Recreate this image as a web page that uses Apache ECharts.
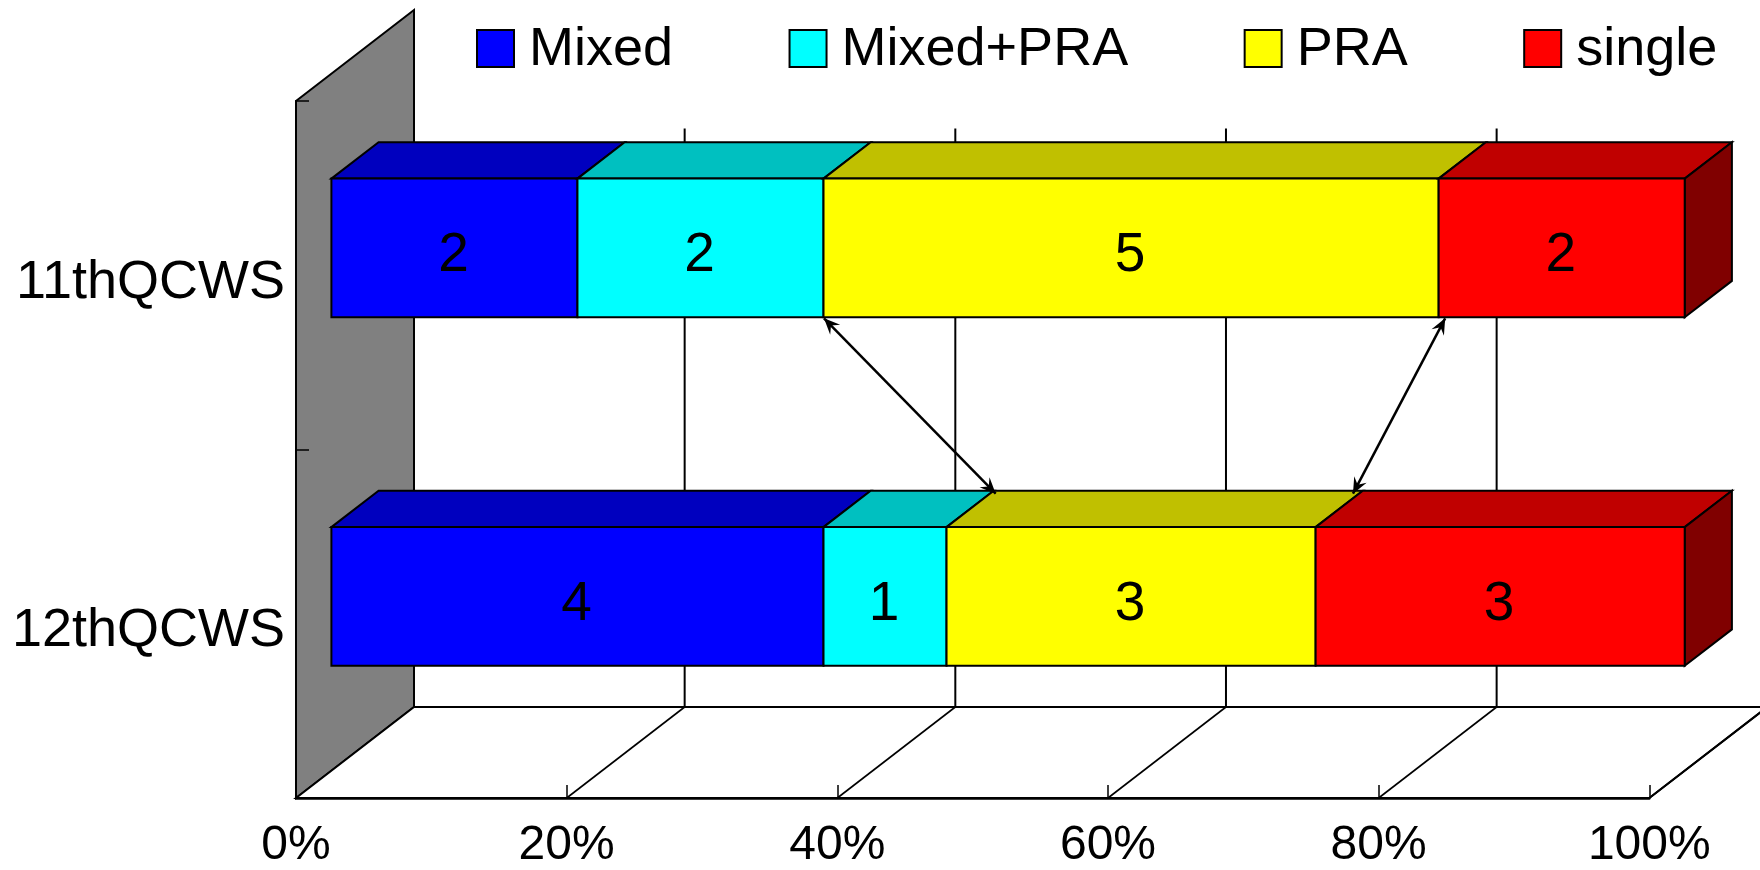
<!DOCTYPE html>
<html>
<head>
<meta charset="utf-8">
<title>QCWS stacked bars</title>
<script src="https://cdn.jsdelivr.net/npm/echarts@6/dist/echarts.min.js"></script>
<style>
  html, body { margin: 0; padding: 0; background: #fff; }
  #chart { width: 1760px; height: 870px; }
</style>
</head>
<body>
<div id="chart"></div>
<script>
// Counts per edition, stacked to 100 %.
const categories = ['11thQCWS', '12thQCWS'];
const mixed = [2, 4];
const mixedPra = [2, 1];
const pra = [5, 3];
const single = [2, 3];
const percentTicks = [0, 20, 40, 60, 80, 100];

const segments = [
  { name: 'Mixed', values: mixed, front: '#0000ff', top: '#0000bf' },
  { name: 'Mixed+PRA', values: mixedPra, front: '#00ffff', top: '#00c0c0' },
  { name: 'PRA', values: pra, front: '#ffff00', top: '#c0c000' },
  { name: 'single', values: single, front: '#ff0000', top: '#c00000', side: '#800000' }
];

// Double-headed links: percent on the lower front edge of one bar, percent on the back top edge of the other.
const linkUpper = [36.4, 82.3];
const linkLower = [45.6, 72.0];

// Oblique projection of the box: how far the back plane sits from the front plane.
const DEPTH_X = 118;
const DEPTH_Y = -91;
const BAR_NEAR = 0.3;   // bar front, as a share of the floor depth
const BAR_FAR = 0.7;    // bar back
const BAR_FILL = 0.398; // bar height as a share of its category band
const FONT = '"Liberation Sans", Arial, sans-serif';
const LABEL_SIZE = 54;
const COUNT_SIZE = 55;
const TICK_LABEL_SIZE = 48;

const totals = categories.map((_, i) => segments.reduce((s, seg) => s + seg.values[i], 0));

function poly(points, fill, lineWidth) {
  return {
    type: 'polygon',
    shape: { points },
    style: { fill, stroke: '#000', lineWidth: lineWidth == null ? 2 : lineWidth, lineJoin: 'miter' }
  };
}

function line(a, b, lineWidth) {
  return {
    type: 'line',
    shape: { x1: a[0], y1: a[1], x2: b[0], y2: b[1] },
    style: { stroke: '#000', lineWidth }
  };
}

// One stacked segment drawn as a box: top face, end face for the last segment, front face, count.
function renderSegment(seg, isLast) {
  return function (params, api) {
    const cat = params.dataIndex;
    const band = api.size([0, 1])[1];
    const half = band * BAR_FILL / 2;
    const dx = DEPTH_X * BAR_NEAR, dy = DEPTH_Y * BAR_NEAR;
    const bx = DEPTH_X * (BAR_FAR - BAR_NEAR), by = DEPTH_Y * (BAR_FAR - BAR_NEAR);
    const a = api.coord([api.value(0), cat]);
    const b = api.coord([api.value(2), cat]);
    const x0 = a[0] + dx, x1 = b[0] + dx;
    const y0 = a[1] + dy - half, y1 = a[1] + dy + half;
    const children = [
      poly([[x0, y0], [x1, y0], [x1 + bx, y0 + by], [x0 + bx, y0 + by]], seg.top)
    ];
    if (isLast) {
      children.push(poly([[x1, y0], [x1 + bx, y0 + by], [x1 + bx, y1 + by], [x1, y1]], seg.side));
    }
    children.push(poly([[x0, y0], [x1, y0], [x1, y1], [x0, y1]], seg.front));
    children.push({
      type: 'text',
      style: {
        text: String(api.value(3)),
        x: (x0 + x1) / 2 - 1,
        y: (y0 + y1) / 2 + 8,
        font: COUNT_SIZE + 'px ' + FONT,
        textAlign: 'center',
        textVerticalAlign: 'middle',
        fill: '#000'
      },
      z2: 5
    });
    return { type: 'group', children };
  };
}

// Side wall, floor and the guide lines on the floor and back plane.
function renderFrame(params, api) {
  const band = api.size([0, 1])[1];
  const top = api.coord([0, 0])[1] - band / 2;
  const bottom = api.coord([0, categories.length - 1])[1] + band / 2;
  const x0 = api.coord([0, 0])[0];
  const x100 = api.coord([100, 0])[0];
  const children = [
    poly([[x0, top], [x0 + DEPTH_X, top + DEPTH_Y], [x0 + DEPTH_X, bottom + DEPTH_Y], [x0, bottom]], '#808080', 2),
    poly([[x0, bottom], [x0 + DEPTH_X, bottom + DEPTH_Y], [x100 + DEPTH_X, bottom + DEPTH_Y], [x100, bottom]], '#fff', 2)
  ];
  percentTicks.forEach((p) => {
    const x = api.coord([p, 0])[0];
    if (p > 0) {
      children.push(line([x, bottom], [x + DEPTH_X, bottom + DEPTH_Y], 1.6));
      children.push(line([x + DEPTH_X, bottom + DEPTH_Y], [x + DEPTH_X, top + DEPTH_Y], 2));
    }
  });
  return { type: 'group', children };
}

function arrowHead(tip, from) {
  const ang = Math.atan2(from[1] - tip[1], from[0] - tip[0]);
  const len = 16, wid = 7, notch = 10;
  const ux = Math.cos(ang), uy = Math.sin(ang);
  const px = -uy, py = ux;
  return {
    type: 'polygon',
    shape: {
      points: [
        tip,
        [tip[0] + ux * len + px * wid, tip[1] + uy * len + py * wid],
        [tip[0] + ux * notch, tip[1] + uy * notch],
        [tip[0] + ux * len - px * wid, tip[1] + uy * len - py * wid]
      ]
    },
    style: { fill: '#000' }
  };
}

// Links between the two bars, with a head at both ends.
function renderLink(params, api) {
  const band = api.size([0, 1])[1];
  const half = band * BAR_FILL / 2;
  const p0 = api.coord([api.value(0), 0]);
  const p1 = api.coord([api.value(2), 1]);
  const a = [p0[0] + DEPTH_X * BAR_NEAR, p0[1] + DEPTH_Y * BAR_NEAR + half + 1];
  const b = [p1[0] + DEPTH_X * BAR_FAR, p1[1] + DEPTH_Y * BAR_FAR - half + 3];
  return {
    type: 'group',
    children: [line(a, b, 2.5), arrowHead(a, b), arrowHead(b, a)]
  };
}

const barSeries = segments.map((seg, s) => ({
  name: seg.name,
  type: 'custom',
  coordinateSystem: 'cartesian2d',
  z: 4,
  silent: true,
  itemStyle: { color: seg.front },
  renderItem: renderSegment(seg, s === segments.length - 1),
  data: categories.map((_, i) => {
    const before = segments.slice(0, s).reduce((acc, other) => acc + other.values[i], 0);
    return [
      before / totals[i] * 100,
      i,
      (before + seg.values[i]) / totals[i] * 100,
      seg.values[i]
    ];
  })
}));

const chart = echarts.init(document.getElementById('chart'), null, { renderer: 'canvas' });
chart.setOption({
  animation: false,
  backgroundColor: '#fff',
  textStyle: { fontFamily: FONT },
  grid: { left: 296, top: 101, width: 1353.3, height: 698, containLabel: false },
  legend: {
    left: 418,
    top: 0,
    width: 1342,
    z: 6,
    backgroundColor: '#fff',
    padding: [23.5, 60, 51, 58],
    itemWidth: 37,
    itemHeight: 37,
    itemGap: 115.5,
    selectedMode: false,
    icon: 'rect',
    formatter: (name) => '{t|' + name + '}',
    textStyle: {
      rich: {
        t: { fontSize: LABEL_SIZE, fontFamily: FONT, color: '#000', padding: [4, 0, 0, 10] }
      }
    },
    data: segments.map((seg) => ({
      name: seg.name,
      itemStyle: { color: seg.front, borderColor: '#000', borderWidth: 2 }
    }))
  },
  xAxis: {
    type: 'value',
    min: 0,
    max: 100,
    interval: 20,
    z: 3,
    splitLine: { show: false },
    axisLine: { show: true, lineStyle: { color: '#000', width: 2.5 } },
    axisTick: { show: true, inside: true, length: 13, lineStyle: { color: '#000', width: 1.5 } },
    axisLabel: {
      formatter: '{value}%',
      fontSize: TICK_LABEL_SIZE,
      fontFamily: FONT,
      color: '#000',
      margin: 24
    }
  },
  yAxis: {
    type: 'category',
    inverse: true,
    data: categories,
    z: 3,
    axisLine: { show: true, onZero: false, lineStyle: { color: '#000', width: 2 } },
    axisTick: { show: true, inside: true, length: 13, lineStyle: { color: '#000', width: 1.5 } },
    axisLabel: {
      color: '#000',
      margin: 11,
      formatter: (name) => '{c|' + name + '}',
      rich: {
        c: { fontSize: LABEL_SIZE, fontFamily: FONT, color: '#000', padding: [15, 0, 0, 0] }
      }
    }
  },
  series: [
    {
      name: 'frame',
      type: 'custom',
      coordinateSystem: 'cartesian2d',
      z: 1,
      silent: true,
      renderItem: renderFrame,
      data: [[0, 0]]
    },
    ...barSeries,
    {
      name: 'links',
      type: 'custom',
      coordinateSystem: 'cartesian2d',
      z: 5,
      silent: true,
      renderItem: renderLink,
      data: linkUpper.map((u, i) => [u, 0, linkLower[i]])
    }
  ]
});
</script>
</body>
</html>
